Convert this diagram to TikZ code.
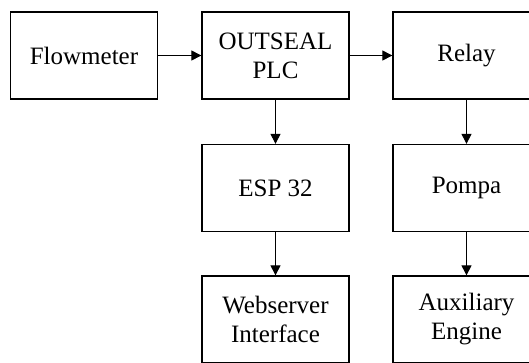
\documentclass[tikz,border=0pt]{standalone}
\usepackage{fontspec}
\setmainfont{Liberation Serif}
\usetikzlibrary{arrows.meta}
\begin{document}
\begin{tikzpicture}[x=1pt,y=-1pt,
  blk/.style={draw, line width=1.3pt, minimum width=147pt, minimum height=87pt, inner sep=0pt,
    align=center, font=\fontsize{25}{29}\selectfont},
  conn/.style={line width=1pt, -{Triangle[length=10pt,width=10pt]}}]
\useasboundingbox (0,0) rectangle (529,362);
\node[blk] (flow) at (84,55.5) {Flowmeter};
\node[blk] (plc) at (275.5,55.5) {OUTSEAL\\PLC};
\node[blk] (relay) at (466.5,55.5) {Relay};
\node[blk] (esp) at (275.5,188) {ESP 32};
\node[blk] (pompa) at (466.5,188) {Pompa};
\node[blk] (web) at (275.5,319.5) {Webserver\\Interface};
\node[blk] (aux) at (466.5,319.5) {Auxiliary\\Engine};
\draw[conn] (flow) -- (plc);
\draw[conn] (plc) -- (relay);
\draw[conn] (plc) -- (esp);
\draw[conn] (relay) -- (pompa);
\draw[conn] (esp) -- (web);
\draw[conn] (pompa) -- (aux);
\end{tikzpicture}
\end{document}
